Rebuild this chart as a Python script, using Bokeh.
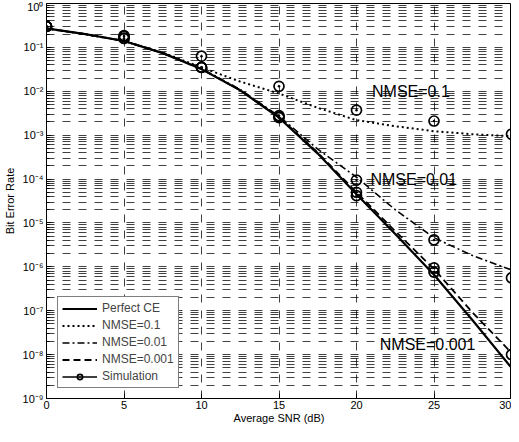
from bokeh.plotting import figure
from bokeh.models import Range1d, Legend, LegendItem, Label, CustomJSTickFormatter, FixedTicker
from bokeh.embed import file_html
from bokeh.resources import INLINE

# ---- data ----
snr = [0, 2.5, 5, 7.5, 10, 12.5, 15, 17.5, 20, 22.5, 25, 27.5, 30]
ber_perfect = [2.7e-1, 2.0e-1, 1.4e-1, 7.4e-2, 3.2e-2, 1.05e-2, 2.5e-3, 3.8e-4, 4.5e-5, 5.6e-6, 6.6e-7, 6.0e-8, 5.0e-9]
ber_nmse_1 = [2.7e-1, 2.0e-1, 1.4e-1, 7.6e-2, 3.5e-2, 1.66e-2, 8.9e-3, 4.2e-3, 2.2e-3, 1.6e-3, 1.23e-3, 1.05e-3, 9.5e-4]
ber_nmse_01 = [2.7e-1, 2.0e-1, 1.4e-1, 7.4e-2, 3.3e-2, 1.1e-2, 2.7e-3, 4.8e-4, 1.1e-4, 2.0e-5, 4.6e-6, 1.8e-6, 8.5e-7]
ber_nmse_001 = [2.7e-1, 2.0e-1, 1.4e-1, 7.4e-2, 3.2e-2, 1.06e-2, 2.6e-3, 4.0e-4, 5.0e-5, 6.5e-6, 8.9e-7, 9.0e-8, 1.1e-8]

snr_sim = [0, 5, 10, 15, 20, 25, 30]
snr_sim_perfect = [0, 5, 10, 15, 20, 25]
sim_perfect = [3.0e-1, 1.78e-1, 3.5e-2, 2.6e-3, 4.2e-5, 7.6e-7]
sim_nmse_1 = [3.0e-1, 1.86e-1, 6.3e-2, 1.3e-2, 3.7e-3, 2.1e-3, 1.05e-3]
sim_nmse_01 = [3.0e-1, 1.6e-1, 3.5e-2, 2.8e-3, 9.5e-5, 4.1e-6, 5.6e-7]
sim_nmse_001 = [3.0e-1, 1.6e-1, 3.5e-2, 2.5e-3, 5.0e-5, 9.5e-7, 1.0e-8]

x_ticks = [0, 5, 10, 15, 20, 25, 30]
y_exponents = [-9, -8, -7, -6, -5, -4, -3, -2, -1, 0]

legend_labels = ["Perfect CE", "NMSE=0.1", "NMSE=0.01", "NMSE=0.001", "Simulation"]
annotations = ["NMSE=0.1", "NMSE=0.01", "NMSE=0.001"]

FONT = "Liberation Sans"

p = figure(width=511, height=426, x_range=Range1d(0, 30), y_range=Range1d(1e-9, 1),
           y_axis_type="log", output_backend="svg", toolbar_location=None,
           min_border_left=40, min_border_right=0, min_border_top=3, min_border_bottom=24)
p.background_fill_color = "white"
p.border_fill_color = "white"
p.outline_line_color = "black"
p.outline_line_width = 1

yt = [10.0 ** e for e in y_exponents]
ymin = [m * 10.0 ** e for e in y_exponents[:-1] for m in range(2, 10)]
p.yaxis.ticker = FixedTicker(ticks=yt, minor_ticks=ymin)
p.xaxis.ticker = FixedTicker(ticks=x_ticks)

p.yaxis.formatter = CustomJSTickFormatter(code=r"""
const sup = {'-':'\u207B','0':'\u2070','1':'\u00B9','2':'\u00B2','3':'\u00B3','4':'\u2074','5':'\u2075','6':'\u2076','7':'\u2077','8':'\u2078','9':'\u2079'};
const e = Math.round(Math.log10(tick));
return '10' + String(e).split('').map(c => sup[c]).join('');
""")

for ax in (p.xaxis[0], p.yaxis[0]):
    ax.axis_line_color = "black"
    ax.major_tick_line_color = "black"
    ax.minor_tick_line_color = "black"
    ax.major_tick_in = 5
    ax.major_tick_out = 0
    ax.minor_tick_in = 3
    ax.minor_tick_out = 0
    ax.major_label_text_font = FONT
    ax.major_label_text_font_size = "11px"
    ax.major_label_text_color = "black"
    ax.axis_label_text_font = FONT
    ax.axis_label_text_font_size = "11px"
    ax.axis_label_text_font_style = "normal"
    ax.axis_label_text_color = "black"
    ax.major_label_standoff = 3

p.xaxis.axis_label = "Average SNR (dB)"
p.yaxis.axis_label = "Bit Error Rate"
p.xaxis.major_label_standoff = 2
p.xaxis.axis_label_standoff = 0
p.yaxis.axis_label_standoff = 4

p.ygrid.grid_line_color = "black"
p.ygrid.grid_line_dash = "8 8"
p.ygrid.grid_line_alpha = 0.75
p.ygrid.minor_grid_line_color = "black"
p.ygrid.minor_grid_line_dash = "8 8"
p.ygrid.minor_grid_line_alpha = 0.75
p.xgrid.grid_line_color = "black"
p.xgrid.grid_line_dash = "8 8"
p.xgrid.grid_line_alpha = 0.75

r1 = p.line(snr, ber_perfect, line_color="black", line_width=2.2)
r2 = p.line(snr, ber_nmse_1, line_color="black", line_width=2, line_dash="2 3")
r3 = p.line(snr, ber_nmse_01, line_color="black", line_width=1.6, line_dash="7 3 2 3")
r4 = p.line(snr, ber_nmse_001, line_color="black", line_width=1.8, line_dash="7 4")

sim_kw = dict(marker="circle_dot", size=10, line_color="black", line_width=1.7, fill_alpha=0)
rs = p.scatter(snr_sim_perfect, sim_perfect, **sim_kw)
p.scatter(snr_sim, sim_nmse_1, **sim_kw)
p.scatter(snr_sim, sim_nmse_01, **sim_kw)
p.scatter(snr_sim, sim_nmse_001, **sim_kw)
# legend-only line for the "Simulation" entry (single point below the visible range)
rl = p.line(x=[0], y=[1e-12], line_color="black", line_width=1.6)

legend = Legend(items=[
    LegendItem(label=legend_labels[0], renderers=[r1]),
    LegendItem(label=legend_labels[1], renderers=[r2]),
    LegendItem(label=legend_labels[2], renderers=[r3]),
    LegendItem(label=legend_labels[3], renderers=[r4]),
    LegendItem(label=legend_labels[4], renderers=[rl, rs]),
], location=(11, 10))
legend.margin = 0
legend.padding = 4
legend.spacing = 3
legend.glyph_width = 35
legend.glyph_height = 13
legend.label_height = 13
legend.label_standoff = 5
legend.label_text_font = FONT
legend.label_text_font_size = "12px"
legend.border_line_color = "black"
legend.border_line_width = 1
legend.background_fill_color = "white"
legend.background_fill_alpha = 1
p.add_layout(legend)

ann_pos = [(21.0, 1.0e-2), (20.9, 1.0e-4), (21.5, 1.7e-8)]
for txt, (ax_, ay_) in zip(annotations, ann_pos):
    p.add_layout(Label(x=ax_, y=ay_, text=txt, text_font=FONT,
                       text_font_size="16px", text_color="black",
                       text_align="left", text_baseline="middle"))

open("out.html", "w").write(file_html(p, INLINE))
